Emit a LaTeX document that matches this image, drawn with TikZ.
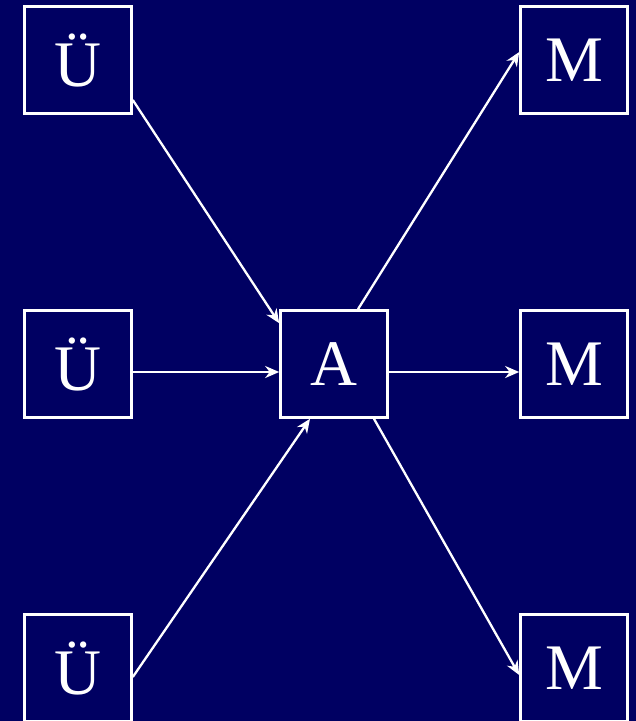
\documentclass[tikz,border=0pt]{standalone}
\usepackage{fontspec}
\setmainfont{Liberation Serif}
\usetikzlibrary{arrows.meta,calc}
\definecolor{bgnavy}{RGB}{0,0,98}
\tikzset{
  box/.style={draw=white, line width=2.6pt, fill=bgnavy, minimum width=107pt, minimum height=107pt, inner sep=0pt, text=white, font=\fontsize{65}{65}\selectfont},
  conn/.style={draw=white, line width=2.3pt, -{Stealth[length=14pt,width=12pt,inset=4.5pt]}}
}
\begin{document}
\begin{tikzpicture}[x=1pt,y=-1pt]
\fill[bgnavy] (0,0) rectangle (636,721);
\useasboundingbox (0,0) rectangle (636,721);
\node[box] (u1) at (78,60) {Ü};
\node[box] (u2) at (78,364) {Ü};
\node[box] (u3) at (78,668) {Ü};
\node[box] (a) at (334,364) {A};
\node[box] (m1) at (574,60) {M};
\node[box] (m2) at (574,364) {M};
\node[box] (m3) at (574,668) {M};
\draw[conn] ($(u1.east)+(0,40)$) -- ($(a.north west)+(0,14)$);
\draw[conn] ($(u2.east)+(0,8)$) -- ($(a.west)+(0,8)$);
\draw[conn] ($(u3.east)+(0,9)$) -- ($(a.south)+(-24,0)$);
\draw[conn] ($(a.north)+(24,0)$) -- ($(m1.west)+(0,-8)$);
\draw[conn] ($(a.east)+(0,8)$) -- ($(m2.west)+(0,8)$);
\draw[conn] ($(a.south)+(40,0)$) -- ($(m3.west)+(0,7)$);
\end{tikzpicture}
\end{document}
